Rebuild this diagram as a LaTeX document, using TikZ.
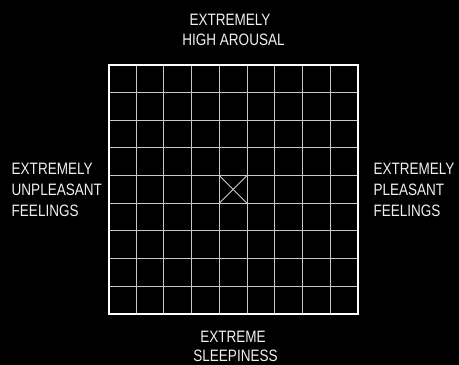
\documentclass[tikz,border=0pt]{standalone}
\usepackage{fontspec}
\setmainfont{Liberation Sans}[FakeStretch=0.82]
\begin{document}
\begin{tikzpicture}[x=1pt,y=-1pt,
  lbl/.style={text=white!94!black,inner sep=0pt,font=\fontsize{16.5}{21}\selectfont},
  inner/.style={draw=white!78!black,line width=1pt},
  outer/.style={draw=white,line width=2pt},
  cross/.style={draw=white!80!black,line width=0.9pt}]
\fill[black] (0,0) rectangle (459,365);
\useasboundingbox (0,0) rectangle (459,365);
\def\L{108.5}\def\T{64.7}\def\S{27.7}
% inner grid lines
\foreach \i in {1,...,8}{
  \draw[inner] ({\L+\i*\S},\T) -- ({\L+\i*\S},{\T+9*\S});
  \draw[inner] (\L,{\T+\i*\S}) -- ({\L+9*\S},{\T+\i*\S});
}
% centre cross
\coordinate (c1) at ({\L+4*\S},{\T+4*\S});
\coordinate (c2) at ({\L+5*\S},{\T+5*\S});
\coordinate (c3) at ({\L+5*\S},{\T+4*\S});
\coordinate (c4) at ({\L+4*\S},{\T+5*\S});
\draw[cross] (c1) -- (c2);
\draw[cross] (c3) -- (c4);
% outer frame
\draw[outer] (\L,\T) rectangle ({\L+9*\S},{\T+9*\S});
% labels
\node[lbl,anchor=base] (t1) at (230,25) {EXTREMELY};
\node[lbl,anchor=base] (t2) at (233.5,45) {HIGH AROUSAL};
\node[lbl,anchor=base west] (l1) at (11.5,174.5) {EXTREMELY};
\node[lbl,anchor=base west] (l2) at (11.5,195.5) {UNPLEASANT};
\node[lbl,anchor=base west] (l3) at (11.5,216.3) {FEELINGS};
\node[lbl,anchor=base west] (r1) at (373.3,174.5) {EXTREMELY};
\node[lbl,anchor=base west] (r2) at (373.3,195.5) {PLEASANT};
\node[lbl,anchor=base west] (r3) at (373.3,216.3) {FEELINGS};
\node[lbl,anchor=base] (b1) at (233,342) {EXTREME};
\node[lbl,anchor=base] (b2) at (235.5,361) {SLEEPINESS};
\end{tikzpicture}
\end{document}
